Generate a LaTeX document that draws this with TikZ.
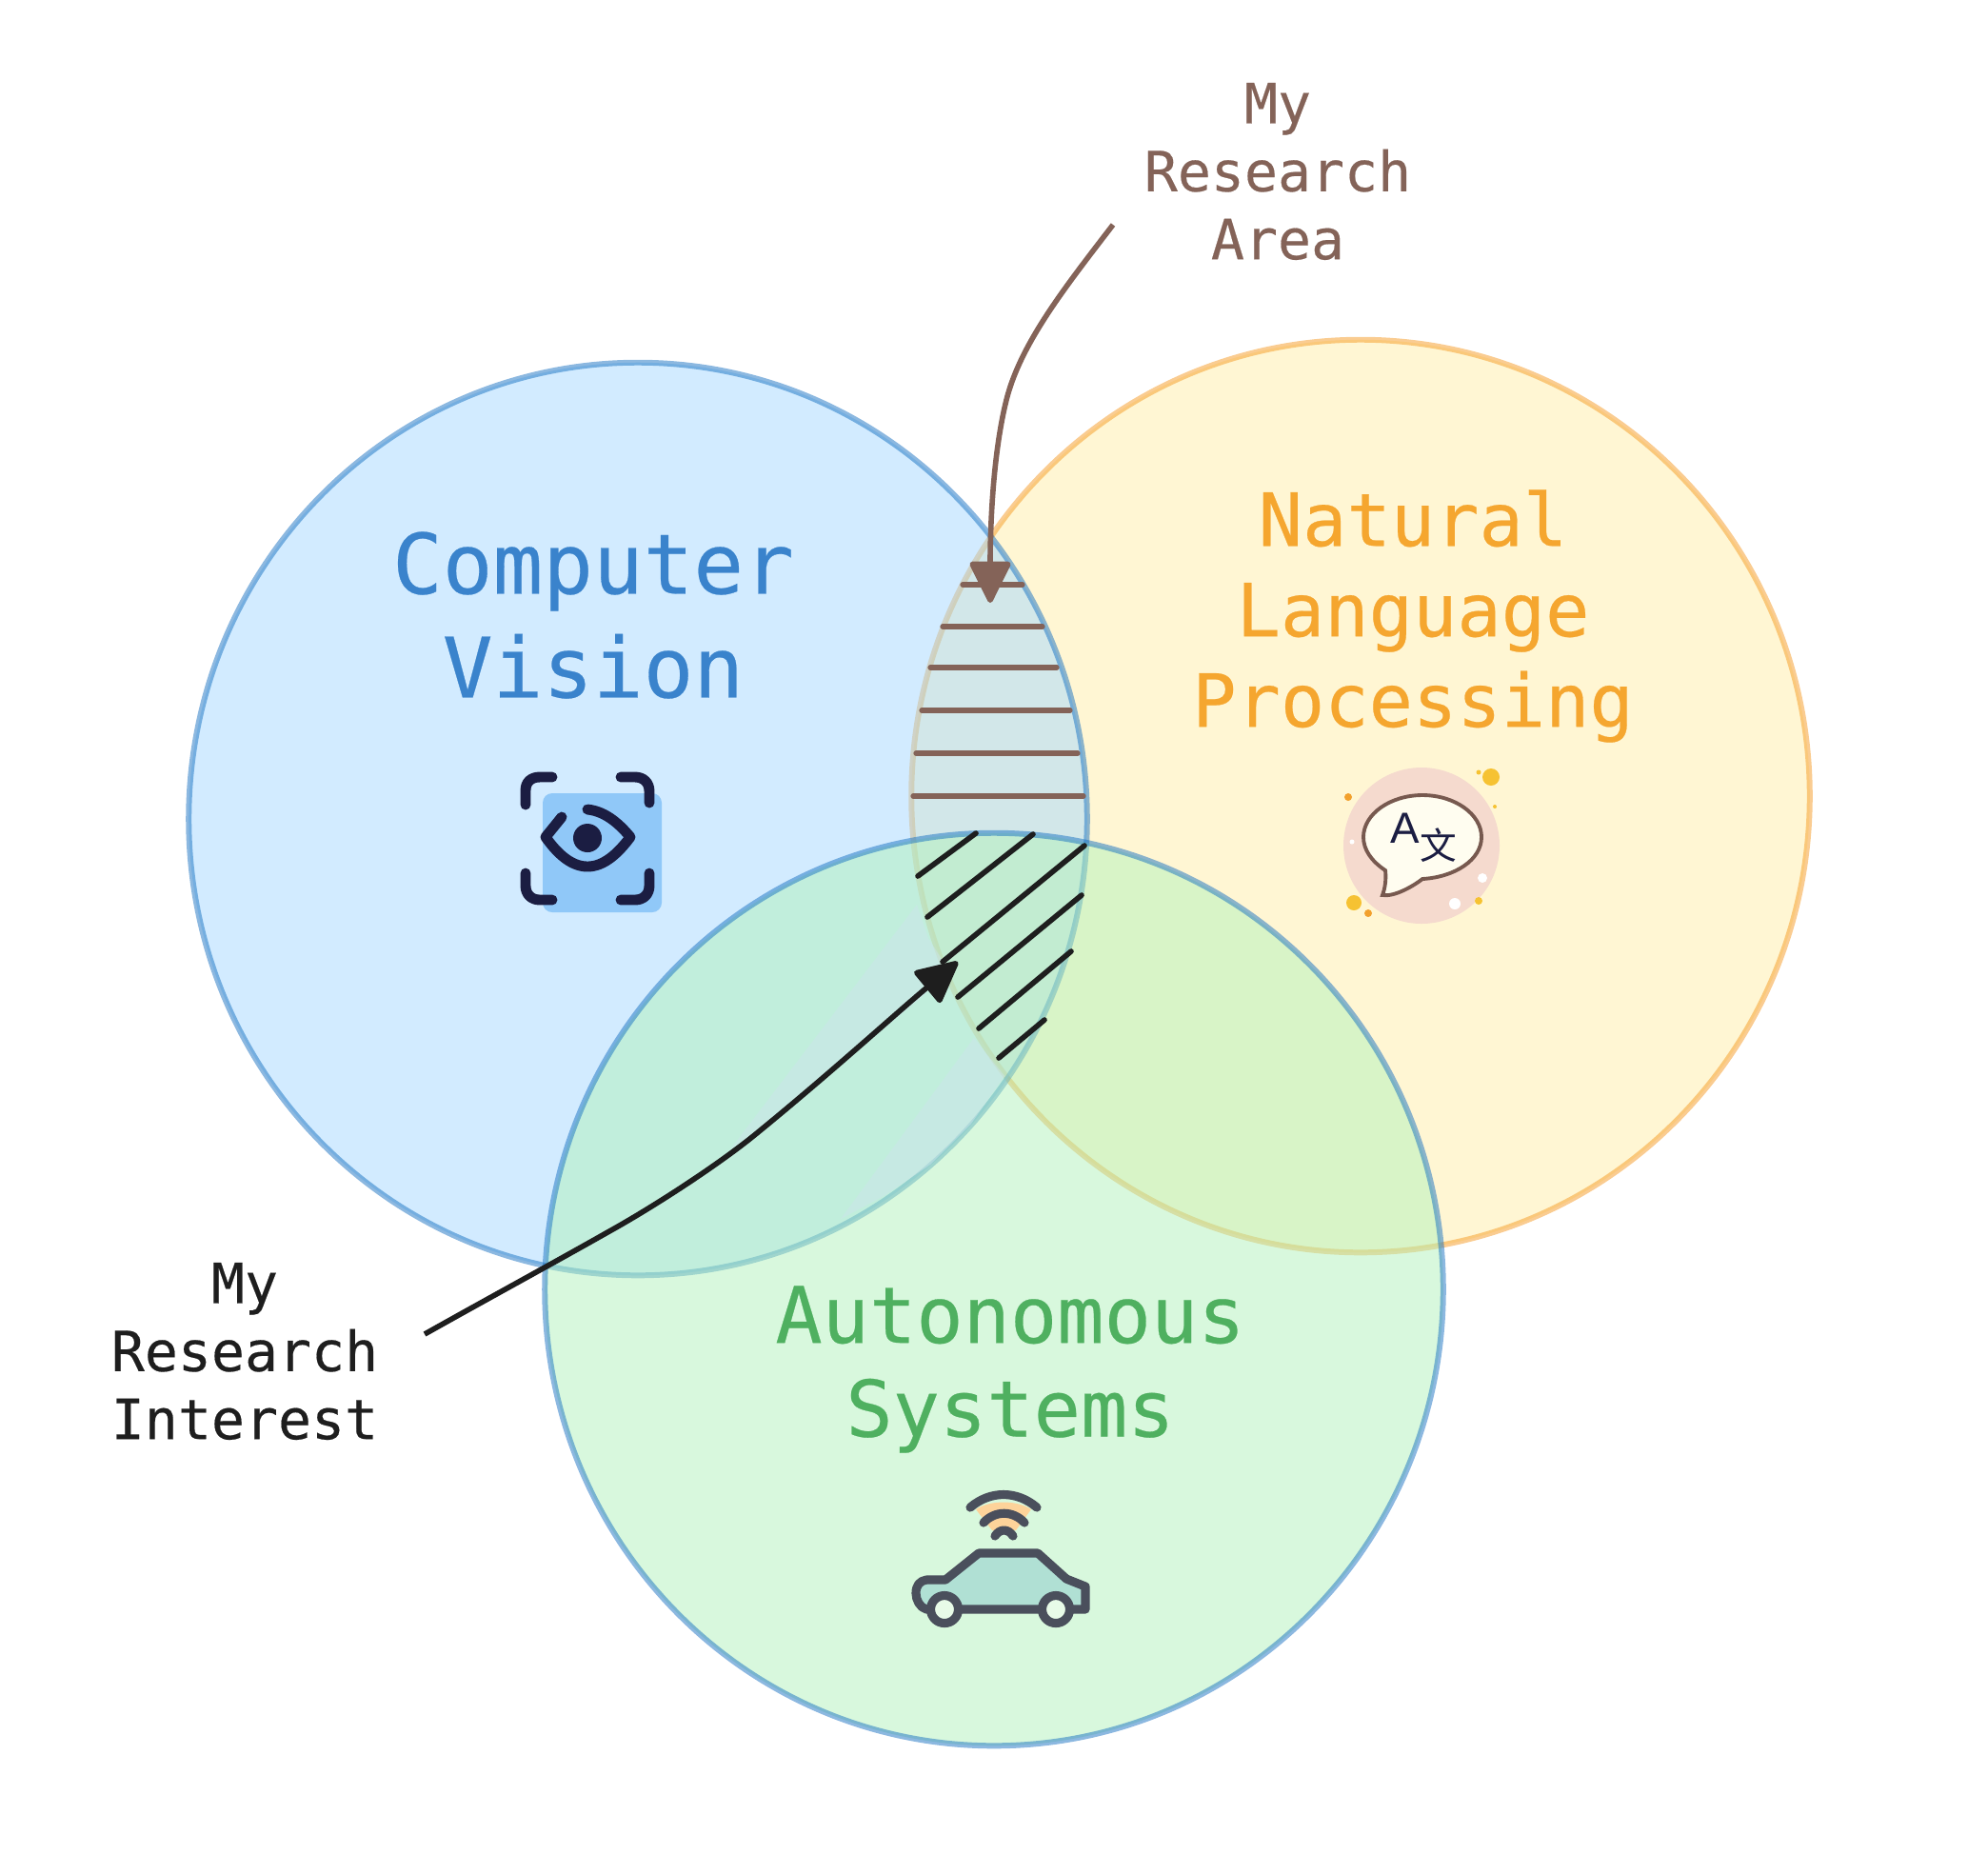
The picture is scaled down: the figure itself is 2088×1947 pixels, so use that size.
\documentclass[tikz,border=0pt]{standalone}
\usepackage{fontspec}
\setmonofont[FakeBold=0.3]{DejaVu Sans Mono}
\newfontfamily\cjk{Noto Sans CJK SC}
\newfontfamily\iconfont{Liberation Sans}
\usetikzlibrary{arrows.meta, shapes.geometric}
\definecolor{visionfill}{HTML}{A5D8FF}
\definecolor{languagefill}{HTML}{FFEEA8}
\definecolor{systemsfill}{HTML}{B2F2BB}
\definecolor{blueline}{HTML}{1971C2}
\definecolor{orangeline}{HTML}{F59A23}
\definecolor{visiontext}{HTML}{3A83CC}
\definecolor{languagetext}{HTML}{F5A62F}
\definecolor{systemstext}{HTML}{4FB060}
\definecolor{brownline}{HTML}{846358}
\definecolor{blackline}{HTML}{1E1E1E}
\definecolor{eyedark}{HTML}{1B1D42}
\definecolor{eyeback}{HTML}{90C8F8}
\definecolor{pinkback}{HTML}{F5DACE}
\definecolor{bubblefill}{HTML}{FFFDF0}
\definecolor{golddot}{HTML}{F6C232}
\definecolor{orangedot}{HTML}{F2A02C}
\definecolor{cardark}{HTML}{4A4F5C}
\definecolor{carbody}{HTML}{B0E0D4}
\definecolor{carwheel}{HTML}{E8FBE8}
\definecolor{wifiback}{HTML}{FDD39A}
\definecolor{bandfill}{HTML}{CCE4EA}

\begin{document}
\begin{tikzpicture}[x=0.01cm, y=-0.01cm]
% Node styles
\tikzstyle{region} = [ellipse, minimum width=9.43cm, minimum height=9.58cm, line width=1.7pt, opacity=0.5]
\tikzstyle{title} = [align=center, font=\ttfamily]
\tikzstyle{areahatch} = [draw=brownline, line width=1.5pt, line cap=round]
\tikzstyle{interesthatch} = [draw=blackline, line width=1.6pt, line cap=round]
\tikzstyle{arrow} = [line width=1.6pt, -{Triangle[length=0.47cm, width=0.45cm, round]}]
\tikzstyle{eyeline} = [draw=eyedark, line width=3.1pt, line cap=round, line join=round]
\tikzstyle{carline} = [draw=cardark, line width=2.6pt, line cap=round, line join=round]

\useasboundingbox (0,0) rectangle (2088,1947);

% Circles
\node [region, draw=orangeline, fill=languagefill] (language) at (1429,836) {};
\node [region, draw=blueline, fill=visionfill] (vision) at (670,860) {};
\node [region, draw=blueline, fill=systemsfill] (systems) at (1044,1354) {};

% Faint bands
\fill [bandfill, opacity=0.5] (767,1207) -- (963,950) -- (975,985) -- (992,1012) -- (973,1043) -- (860,1137) -- (793,1190) -- cycle;
\fill [bandfill, opacity=0.5] (883,1280) -- (1023,1090) -- (1055,1130) -- (1020,1180) -- (977,1223) -- (930,1255) -- cycle;

% Titles
\node [title, text=visiontext, font=\ttfamily\fontsize{24.9}{31}\selectfont] (visionlabel) at (623,646) {Computer\\Vision};
\node [title, text=languagetext, font=\ttfamily\fontsize{21.9}{27}\selectfont] (languagelabel) at (1484,647) {Natural\\Language\\Processing};
\node [title, text=systemstext, font=\ttfamily\fontsize{23.3}{28}\selectfont] (systemslabel) at (1061,1438) {Autonomous\\Systems};
\node [title, text=brownline, font=\ttfamily\fontsize{16.55}{20.3}\selectfont] (arealabel) at (1342,180) {My\\Research\\Area};
\node [title, text=blackline, font=\ttfamily\fontsize{16.55}{20.3}\selectfont] (interestlabel) at (257,1419) {My\\Research\\Interest};

% Hatching
\draw [areahatch] (1011,614) -- (1074,614);
\draw [areahatch] (990,658) -- (1095,658);
\draw [areahatch] (977,701) -- (1110,701);
\draw [areahatch] (968,746) -- (1124,746);
\draw [areahatch] (962,791) -- (1132,791);
\draw [areahatch] (959,836) -- (1138,836);
\draw [interesthatch] (964,920) -- (1025,875);
\draw [interesthatch] (974,963) -- (1085,876);
\draw [interesthatch] (990,1010) -- (1139,888);
\draw [interesthatch] (1006,1047) -- (1136,940);
\draw [interesthatch] (1028,1080) -- (1125,999);
\draw [interesthatch] (1049,1111) -- (1097,1071);

% Arrows
\coordinate (areastart) at (1169,236);
\coordinate (areatip) at (1040,633);
\coordinate (intereststart) at (446,1401);
\coordinate (interesttip) at (1006,1010);
\draw [arrow, brownline] (areastart) .. controls (1120,300) and (1072,360) .. (1057,420) .. controls (1042,480) and (1040,560) .. (areatip);
\draw [arrow, blackline] (intereststart) .. controls (510,1365) and (580,1327) .. (640,1293) .. controls (685,1268) and (750,1226) .. (790,1194) .. controls (870,1129) and (940,1065) .. (interesttip);

% Eye icon
\fill [eyeback, rounded corners=0.1cm] (570,833) rectangle (695,958);
\draw [eyeline] (552,845) -- (552,830) .. controls (552,821) and (558,816) .. (567,816) -- (580,816);
\draw [eyeline] (652,816) -- (667,816) .. controls (676,816) and (682,822) .. (682,831) -- (682,843);
\draw [eyeline] (552,917) -- (552,930) .. controls (552,939) and (558,945) .. (567,945) -- (580,945);
\draw [eyeline] (682,917) -- (682,930) .. controls (682,939) and (676,945) .. (667,945) -- (652,945);
\draw [eyeline] (617,850) .. controls (637,852) and (652,867) .. (662,879) .. controls (650,895) and (635,910) .. (617,910) .. controls (598,910) and (583,893) .. (573,879) -- (590,858);
\fill [eyedark] (617,880) circle [radius=15];

% Language icon
\fill [pinkback] (1493,888) circle [radius=82];
\draw [draw=brownline!90!black, line width=1.1pt, fill=bubblefill] (1455,914) .. controls (1440,904) and (1432,892) .. (1432,879) .. controls (1432,855) and (1460,835) .. (1494,835) .. controls (1528,835) and (1556,855) .. (1556,879) .. controls (1556,903) and (1528,921) .. (1494,923) .. controls (1485,930) and (1465,942) .. (1452,940) .. controls (1455,932) and (1456,922) .. (1455,914) -- cycle;
\node [text=eyedark, inner sep=0pt, font=\iconfont\fontsize{13}{13}\selectfont] (letter) at (1476,870) {A};
\node [text=eyedark, inner sep=0pt, font=\cjk\fontsize{11}{11}\selectfont] (sign) at (1511,888) {文};
\fill [golddot] (1566,816) circle [radius=9];
\fill [golddot] (1553,811) circle [radius=2.5];
\fill [golddot] (1570,847) circle [radius=2];
\fill [orangedot] (1416,837) circle [radius=4];
\fill [golddot] (1422,948) circle [radius=8];
\fill [orangedot] (1437,959) circle [radius=4];
\fill [golddot] (1553,946) circle [radius=4];
\fill [white] (1557,922) circle [radius=5];
\fill [white] (1528,949) circle [radius=6];
\fill [white] (1420,884) circle [radius=2.5];

% Car icon
\fill [wifiback] (1025,1585) .. controls (1040,1575) and (1068,1575) .. (1083,1585) -- (1067,1607) -- (1042,1607) -- cycle;
\draw [carline] (1019,1583) .. controls (1040,1565) and (1068,1565) .. (1089,1583);
\draw [carline] (1033,1599) .. controls (1045,1586) and (1064,1586) .. (1076,1599);
\draw [carline] (1045,1613) .. controls (1050,1605) and (1059,1605) .. (1064,1613);
\draw [carline, fill=carbody] (973,1659) -- (993,1659) -- (1028,1631) -- (1090,1631) -- (1120,1658) -- (1140,1666) -- (1140,1690) -- (973,1690) .. controls (966,1688) and (962,1680) .. (962,1673) .. controls (962,1665) and (966,1660) .. (973,1659) -- cycle;
\draw [carline, fill=carwheel] (992,1690) circle [radius=14.5];
\draw [carline, fill=carwheel] (1109,1690) circle [radius=14.5];
\end{tikzpicture}
\end{document}
